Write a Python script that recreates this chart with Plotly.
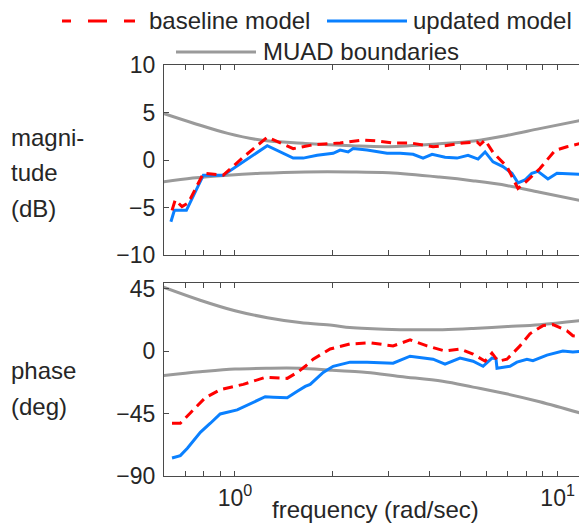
import plotly.graph_objects as go

# ---------------- data ----------------
# magnitude (dB)
mag_base_f = [0.638, 0.653, 0.685, 0.717, 0.798, 0.882, 0.920, 1.061, 1.259, 1.515, 1.747, 2.118,
              2.495, 2.758, 3.091, 3.489, 4.111, 4.478, 5.093, 5.628, 5.750, 5.960, 6.306, 6.966,
              7.535, 8.035, 8.815, 9.809, 10.69, 12.32]
mag_base_v = [-5.3, -4.2, -4.9, -4.5, -1.4, -1.55, -1.6, 0.3, 2.4, 1.2, 1.6, 1.8,
              2.1, 2.0, 1.8, 1.8, 1.4, 1.5, 1.8, 1.9, 1.6, 2.1, 0.8, -0.7,
              -3.0, -2.2, -0.9, 1.0, 1.4, 1.9]

mag_upd_f = [0.633, 0.649, 0.707, 0.798, 0.920, 1.259, 1.515, 1.627, 1.798, 2.015, 2.118, 2.243,
             2.323, 2.568, 2.961, 3.250, 3.565, 3.828, 4.083, 4.478, 4.877, 5.277, 5.668, 5.960,
             6.306, 6.769, 7.220, 7.535, 7.923, 8.318, 8.690, 9.333, 9.954, 11.72, 12.32]
mag_upd_v = [-6.5, -5.3, -5.3, -1.6, -1.6, 1.5, 0.2, 0.2, 0.5, 0.7, 1.05, 0.85,
             1.2, 1.05, 0.7, 0.7, 0.6, 0.2, 0.6, 0.3, 0.2, 0.5, 0.1, 0.85,
             -0.2, -0.7, -1.4, -2.4, -2.1, -1.4, -1.2, -2.0, -1.4, -1.5, -0.85]

mag_bnd_f = [0.60, 0.74, 0.95, 1.20, 1.65, 2.3, 3.0, 4.3, 5.5, 7.0, 8.8, 11.9]
mag_upper = [4.9, 3.9, 2.8, 2.1, 1.75, 1.5, 1.4, 1.7, 2.0, 2.6, 3.3, 4.2]
mag_lower = [-2.3, -1.9, -1.6, -1.4, -1.25, -1.25, -1.35, -1.8, -2.2, -2.7, -3.4, -4.3]

# phase (deg)
ph_base_f = [0.638, 0.677, 0.727, 0.809, 0.900, 1.061, 1.241, 1.452, 1.560, 1.651, 1.747, 1.972,
             2.275, 2.624, 3.091, 3.489, 3.937, 4.478, 4.984, 5.469, 5.960, 6.260, 6.534, 6.966,
             7.645, 8.204, 9.006, 9.672, 10.69, 11.15, 12.32]
ph_base_v = [-52, -52, -44.6, -33.6, -27.8, -24, -19, -19.7, -15.4, -11, -5.9, 1.5,
             5.1, 5.9, 3.7, 8, 3.7, 0, 1.5, -2.2, -7.3, -1.5, -7.3, -5.9,
             3.7, 12.4, 18.3, 19, 14.6, 11, 10]

ph_upd_f = [0.638, 0.677, 0.712, 0.781, 0.839, 0.900, 1.016, 1.139, 1.241, 1.314, 1.452, 1.560,
            1.651, 1.710, 1.877, 2.015, 2.275, 2.568, 3.091, 3.489, 3.828, 4.111, 4.478, 4.984,
            5.469, 5.875, 6.260, 6.440, 6.488, 7.117, 7.482, 8.035, 8.386, 9.268, 10.38, 11.15, 12.32]
ph_upd_v = [-77, -75.3, -70, -58.5, -52, -45.3, -42.4, -37.3, -32.9, -33.2, -33.6, -29,
            -25.5, -24, -15.4, -11, -8, -8, -8.8, -3.7, -5.1, -5.9, -9.5, -5.1,
            -7.3, -11, -5.1, -5.5, -12.4, -11, -8, -5.9, -7, -2.9, 0, -0.7, 0]

ph_bnd_f = [0.60, 0.78, 1.0, 1.26, 1.59, 2.0, 2.27, 2.57, 3.25, 4.4, 5.47, 7.0, 8.8, 11.9]
ph_upper = [46, 36.6, 29, 24, 20.5, 18.5, 17, 16.2, 15.4, 15.4, 16.2, 17.6, 19, 22]
ph_lower = [-17.6, -15.0, -13.0, -12.4, -12.4, -13.9, -14.6, -15.4, -18.3, -21.8, -26, -31, -36.5, -45]

x_major = [1, 10]
x_major_text = ["10<sup>0</sup>", "10<sup>1</sup>"]
x_minor = [0.7, 0.8, 0.9, 2, 3, 4, 5, 6, 7, 8, 9]
mag_ticks = [-10, -5, 0, 5, 10]
ph_ticks = [-90, -45, 0, 45]

legend_labels = ["baseline model", "updated model", "MUAD boundaries"]

# ---------------- styles ----------------
RED = "#FF0000"
BLUE = "#0A80FF"
GRAY = "#9A9A9A"
AX = "#4A4A4A"
TXT = "#262626"
FONT = "Liberation Sans, Arial, sans-serif"

OFF = 8  # page body margin of the html page
W, H = 587 - OFF, 524 - OFF
# plot area in page pixels: x 164..586, y 65..476
ML, MR, MT, MB = 164 - OFF, 1, 65 - OFF, 524 - 476
PW, PH = W - ML - MR, H - MT - MB


def px(x):  # page x -> paper
    return (x - OFF - ML) / PW


def py(y):  # page y -> paper
    return (OFF + MT + PH - y) / PH


fig = go.Figure()

for f, v, ax in [
    (mag_bnd_f, mag_upper, 1), (mag_bnd_f, mag_lower, 1),
    (ph_bnd_f, ph_upper, 2), (ph_bnd_f, ph_lower, 2),
]:
    fig.add_trace(go.Scatter(x=f, y=v, mode="lines", line=dict(color=GRAY, width=3, shape="spline"),
                             xaxis="x" if ax == 1 else "x2", yaxis="y" if ax == 1 else "y2",
                             showlegend=False, hoverinfo="skip"))

fig.add_trace(go.Scatter(x=mag_upd_f, y=mag_upd_v, mode="lines", line=dict(color=BLUE, width=3),
                         xaxis="x", yaxis="y", showlegend=False))
fig.add_trace(go.Scatter(x=mag_base_f, y=mag_base_v, mode="lines",
                         line=dict(color=RED, width=3, dash="10px,6px"),
                         xaxis="x", yaxis="y", showlegend=False))
fig.add_trace(go.Scatter(x=ph_upd_f, y=ph_upd_v, mode="lines", line=dict(color=BLUE, width=3),
                         xaxis="x2", yaxis="y2", showlegend=False))
fig.add_trace(go.Scatter(x=ph_base_f, y=ph_base_v, mode="lines",
                         line=dict(color=RED, width=3, dash="10px,6px"),
                         xaxis="x2", yaxis="y2", showlegend=False))

axis_common = dict(showline=True, linecolor=AX, linewidth=1.3, mirror="ticks", ticks="inside",
                   ticklen=5, tickwidth=1, tickcolor=AX, showgrid=False, zeroline=False,
                   tickfont=dict(family=FONT, size=23, color=TXT))
minor_x = dict(tickvals=x_minor, ticks="inside", ticklen=5, tickwidth=1, tickcolor=AX, showgrid=False)

xr = [-0.22, 1.088]
fig.update_layout(
    width=W, height=H, margin=dict(l=ML, r=MR, t=MT, b=MB),
    paper_bgcolor="white", plot_bgcolor="white",
    xaxis=dict(type="log", range=xr, anchor="y", tickvals=x_major, ticktext=x_major_text,
               showticklabels=False, minor=minor_x, **axis_common),
    xaxis2=dict(type="log", range=xr, anchor="y2", tickvals=x_major, ticktext=x_major_text,
                ticklabelstandoff=1, minor=minor_x, **axis_common),
    yaxis=dict(range=[-10, 10], domain=[py(255), 1], tickvals=mag_ticks, anchor="x",
               ticklabelstandoff=3, **axis_common),
    yaxis2=dict(range=[-90, 49], domain=[0, py(283)], tickvals=ph_ticks, anchor="x2",
                ticklabelstandoff=3, **axis_common),
    showlegend=False,
)

ann_font = dict(family=FONT, size=24, color=TXT)
annotations = []


def label(text, x, y, anchor="left"):
    annotations.append(dict(text=text, x=px(x), y=py(y), xref="paper", yref="paper",
                            xanchor=anchor, yanchor="middle", showarrow=False, font=ann_font))


label("magni-", 9, 137)
label("tude", 9, 172)
label("(dB)", 9, 208)
label("phase", 9, 370)
label("(deg)", 9, 406)
label("frequency (rad/sec)", 375, 509, anchor="center")

# manual legend
label(legend_labels[0], 147, 21)
label(legend_labels[1], 411, 21)
label(legend_labels[2], 261, 52)

shapes = []


def seg(x0, x1, y, col):
    shapes.append(dict(type="line", xref="paper", yref="paper", x0=px(x0), x1=px(x1),
                       y0=py(y), y1=py(y), line=dict(color=col, width=3)))


seg(62, 71, 21, RED)
seg(88, 107, 21, RED)
seg(124, 135, 21, RED)
seg(327, 407, 21, BLUE)
seg(176, 256, 52, GRAY)

fig.update_layout(annotations=annotations, shapes=shapes)

fig.write_html("out.html")
